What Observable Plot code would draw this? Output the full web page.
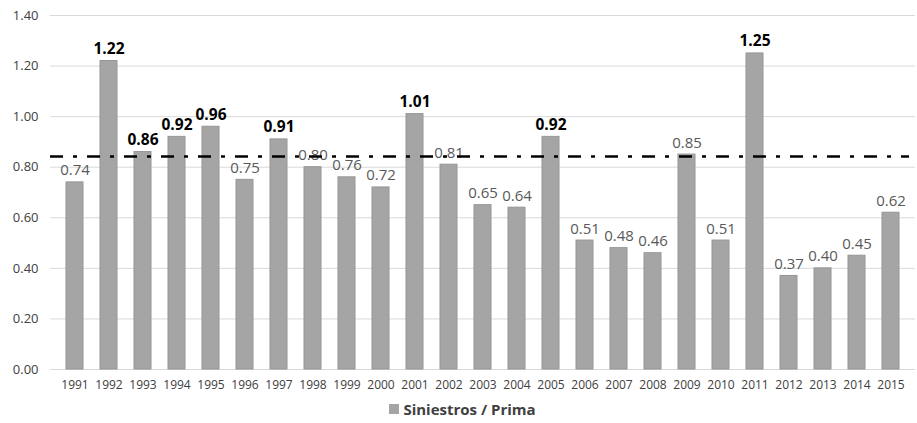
<!DOCTYPE html>
<html>
<head>
<meta charset="utf-8">
<script src="https://cdn.jsdelivr.net/npm/d3@7"></script>
<script src="https://cdn.jsdelivr.net/npm/@observablehq/plot@0.6"></script>
<style>
  body { margin: 0; background: #fff; font-family: "Open Sans", sans-serif; }
  #legend { display: flex; justify-content: center; align-items: center; height: 28px; margin-left: 8px;
            font-weight: bold; font-size: 15px; color: #404040; }
  #legend .sw { width: 10px; height: 10px; background: #a5a5a5; margin-right: 4px; }
</style>
</head>
<body>
<div id="chart"></div>
<div id="legend"><span class="sw"></span><span>Siniestros / Prima</span></div>
<script>
// Loss ratio (claims / premium) by year
const years = ["1991","1992","1993","1994","1995","1996","1997","1998","1999","2000","2001","2002","2003",
               "2004","2005","2006","2007","2008","2009","2010","2011","2012","2013","2014","2015"];
const ratios = [0.74,1.22,0.86,0.92,0.96,0.75,0.91,0.80,0.76,0.72,1.01,0.81,0.65,
                0.64,0.92,0.51,0.48,0.46,0.85,0.51,1.25,0.37,0.40,0.45,0.62];
// years whose value label is emphasised
const highlighted = ["1992","1993","1994","1995","1997","2001","2005","2011"];
// reference level drawn as a dash-dot line
const threshold = 0.842;
const yTicks = [0, 0.2, 0.4, 0.6, 0.8, 1.0, 1.2, 1.4];

const data = years.map((y, i) => ({year: y, value: ratios[i], bold: highlighted.includes(y)}));

const chart = Plot.plot({
  width: 917,
  height: 395,
  marginTop: 15,
  marginBottom: 26,
  marginLeft: 50,
  marginRight: 2,
  style: {fontFamily: "'Open Sans', sans-serif", background: "#fff"},
  x: {domain: years, paddingInner: 0.5, paddingOuter: 0.25, label: null},
  y: {domain: [0, 1.4], label: null},
  marks: [
    Plot.gridY(yTicks, {stroke: "#d9d9d9", strokeOpacity: 1, strokeWidth: 1}),
    Plot.barY(data, {x: "year", y: "value", fill: "#a5a5a5", stroke: "#969696", strokeWidth: 1}),
    Plot.text(data.filter(d => !d.bold), {x: "year", y: "value", text: d => d.value.toFixed(2),
      lineAnchor: "bottom", dy: -7, fill: "#595959", fontSize: 15}),
    Plot.text(data.filter(d => d.bold), {x: "year", y: "value", text: d => d.value.toFixed(2),
      lineAnchor: "bottom", dy: -7, fill: "#000", fontSize: 15.5, fontWeight: "bold"}),
    Plot.ruleY([threshold], {insetRight: 6, stroke: "#000", strokeWidth: 2.5,
      strokeDasharray: "13,10,4,10"}),
    Plot.axisX({tickSize: 0, tickPadding: 11, fontSize: 12, color: "#404040"}),
    Plot.axisY({ticks: yTicks, tickFormat: d => d.toFixed(2), tickSize: 0, tickPadding: 12, fontSize: 13, color: "#404040"})
  ]
});
document.getElementById("chart").append(chart);
</script>
</body>
</html>
